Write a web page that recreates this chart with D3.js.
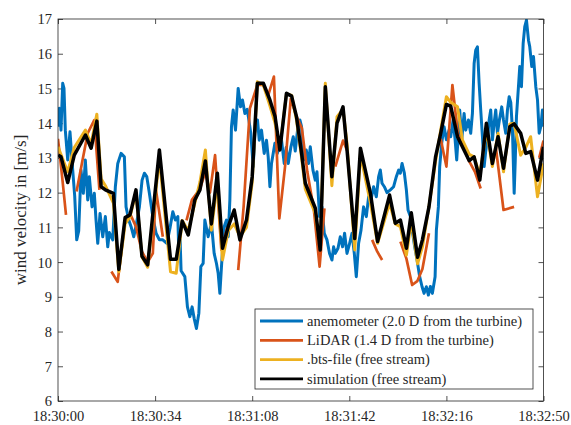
<!DOCTYPE html>
<html>
<head>
<meta charset="utf-8">
<script src="https://cdn.jsdelivr.net/npm/d3@7"></script>
<style>
  html, body { margin: 0; padding: 0; background: #fff; }
  svg { display: block; }
</style>
</head>
<body>
<svg id="chart" width="571" height="425"></svg>
<script>
// ---------- data (time in seconds after 18:30:00, speed in m/s) ----------
const xTickValues = [0, 34, 68, 102, 136, 170];
const xTickLabels = ["18:30:00", "18:30:34", "18:31:08", "18:31:42", "18:32:16", "18:32:50"];
const yTickValues = [6, 7, 8, 9, 10, 11, 12, 13, 14, 15, 16, 17];

const seriesNames = [
  "anemometer (2.0 D from the turbine)",
  "LiDAR (1.4 D from the turbine)",
  ".bts-file (free stream)",
  "simulation (free stream)"
];
const seriesColors = ["#0072BD", "#D95319", "#EDB120", "#000000"];

const anemoTime = [0,0.46,1.05,1.65,2.1,2.56,3.4,4.2,5.15,5.85,6.55,7.25,8.06,8.87,9.57,10.41,10.97,11.92,12.72,13.32,13.92,14.72,15.67,16.58,17.42,17.98,19.17,20.08,20.93,22.08,23.24,23.83,24.78,25.59,26.53,27.45,28.5,29.44,30.25,31.09,32.0,33.19,34.35,35.51,36.7,38.1,39.26,40.2,41.11,41.96,42.3,42.76,43.1,44.41,45.32,46.16,46.97,47.67,48.47,49.32,50.02,50.82,51.42,52.58,53.73,54.68,55.49,56.08,56.68,57.24,58.18,58.99,59.59,60.18,60.74,61.34,62.15,63.09,63.9,64.6,65.44,66.25,66.84,67.5,68.35,68.95,69.86,70.46,71.26,72.2,73.0,73.6,74.2,74.76,75.95,76.76,77.46,78.27,79.22,79.9,80.62,81.56,82.37,83.07,83.88,84.72,85.28,85.98,86.93,87.73,88.33,89.27,90.08,90.68,91.58,92.43,93.24,94.18,95.09,95.93,96.5,97.09,98.04,98.84,99.65,100.35,101.19,102,102.94,103.75,104.45,105.26,106.1,107.0,107.96,108.76,109.6,110.5,111.46,112.27,112.86,113.46,114.27,115.2,116.37,117.52,118.47,119.28,119.87,120.47,121.28,121.98,122.57,123.38,124.19,124.89,125.73,126.64,127.48,128.18,128.99,129.69,130.39,131.09,132.04,132.49,133.19,133.65,134.35,135.19,136.0,136.94,137.5,138.35,139.05,139.61,140.2,140.66,141.36,142.2,142.76,143.71,144.51,145.11,145.71,146.27,146.86,147.46,148.02,148.62,149.22,149.78,150.37,150.97,151.52,152.12,152.72,153.28,153.87,154.57,155.38,155.98,156.78,157.38,157.98,158.54,159.13,159.73,160.1,160.53,161.23,161.69,162.28,162.88,163.44,164.04,164.74,165.19,165.89,166.49,167.3,167.9,168.49,169.05,169.64,170];
const anemoSpeed = [13.9,14.43,13.8,15.15,15.0,13.8,12.94,13.75,12.65,11.9,10.64,10.9,12.65,11.98,12.94,11.79,12.46,11.59,11.98,11.21,10.54,11.4,10.73,11.31,10.44,10.85,10.64,12.17,12.84,13.13,13.03,11.59,11.21,11.02,10.73,11.1,11.59,12.36,12.56,12.46,11.98,11.31,10.83,10.64,10.64,10.54,11.0,11.45,11.21,11.31,10.25,10.64,9.75,9.58,8.71,8.43,8.71,8.38,8.09,8.53,9.87,9.96,11.21,10.73,11.12,10.25,9.96,9.68,9.1,9.87,11.02,11.21,10.73,11.79,13.9,14.38,13.8,15.0,14.47,14.67,14.28,14.4,14.09,13.71,12.75,13.71,14.09,13.51,13.8,13.13,13.51,13.03,12.17,12.84,13.42,13.13,13.3,13.51,12.84,13.3,12.84,13.32,13.61,13.2,13.8,14.09,13.9,12.94,13.23,12.84,13.32,12.65,12.36,12.6,11.31,11.59,10.83,10.64,10.25,10.06,10.44,10.25,10.4,10.73,10.44,10.83,10.25,10.5,10.83,10.25,9.58,10.54,10.92,11.59,11.31,11.88,11.8,12.17,11.88,12.46,12.65,12.27,12.17,12.0,12.08,12.17,12.46,12.65,12.56,12.84,12.56,12.08,11.5,11.31,10.83,10.44,10.06,9.58,9.29,9.1,9.29,9.05,9.3,9.1,9.58,10.92,11.59,12.75,13.42,13.9,13.52,13.8,13.61,14.09,13.52,12.94,13.71,14.38,13.52,14.28,13.8,14.09,13.71,14.28,15.72,16.1,16.2,15.15,14.38,13.61,12.75,13.2,13.52,14.09,14.38,13.52,14.0,14.38,13.71,14.1,14.47,14.1,13.71,14.38,14.76,14.6,13.8,11.98,12.9,14.19,15.05,15.63,15.05,16.3,16.78,16.97,16.39,16.2,15.63,15.92,15.05,14.67,13.71,13.9,14.38,13.9];

// LiDAR: null marks a gap in the measurement
const lidarTime  = [0,1.4,2.8,4,6.5,8.5,10.4,12.7,14.5,16,18.7,20.9,23.3,25.2,27.3,29.4,31.4,33.2,34.3,36.7,38,45,46.9,49.7,51.6,53.2,55,57.2,59.3,61,63.1,65,67.2,69.8,71.9,73.6,75.6,77.5,79.5,81.5,83.5,85.4,87.3,89.6,91.6,93.3,95,97.1,99.8,101.3,102.5,110,111.8,113.5,116,119.9,122,124,125.8,127.6,129.9,131,134,136,138.1,140,142,144,146,148,149.5,153.3,156,159.7,161,168.5,170];
const lidarSpeed = [13.55,12.5,11.36,null,12.03,12.9,13.71,14.09,12.08,null,9.73,9.43,11.1,11.4,11.02,10.3,10.0,10.25,12.08,10.73,null,11.2,11.79,12.1,12.6,12.0,13.08,10.35,11.0,null,9.77,11.6,14.43,15.1,15.1,14.8,15.34,11.26,12.75,14.7,14.2,13.85,12.6,11.5,9.87,11.55,null,12.75,13.5,13.2,null,10.64,10.3,10.06,null,10.59,10.1,9.34,9.45,9.8,10.83,null,13.55,12.75,15.1,13.7,13.3,12.9,12.6,12.12,null,13.32,11.5,11.59,null,13.0,13.5];

const simTime  = [0,1.05,3.4,5.7,9.6,11.6,13.6,15.1,16.6,19.4,21.3,23.5,25.2,27.3,29.4,31.4,35.5,39.4,41.4,43.5,45.6,47.9,49.7,51.6,53.7,55.8,57.6,59.6,61.7,63.7,66.0,68.0,69.8,71.9,74.2,76.0,77.7,80.0,81.8,83.5,85.3,86.6,90.1,91.8,93.6,95.9,97.7,99.8,101.2,103.9,105.9,109.4,111.9,116.1,118.1,119.9,122.0,123.7,125.9,127.6,129.9,132.2,134.0,136.0,137.5,139.9,141.6,144.0,145.7,147.7,150.0,152.1,154.1,156.0,158.2,159.7,162.0,163.8,165.5,167.9,170];
const simSpeed = [13.08,13.03,12.29,13.08,13.66,13.28,14.06,12.17,12.08,11.98,9.79,11.28,11.36,12.08,10.17,9.92,13.23,10.08,10.08,11.18,10.78,11.79,12.08,12.91,11.10,12.56,10.40,11.02,11.50,10.64,11.21,12.46,15.15,15.15,14.67,14.19,13.23,14.86,14.78,14.19,13.13,12.27,11.55,10.35,15.05,12.46,14.0,14.47,13.23,10.68,13.28,11.98,10.59,11.93,11.12,11.21,10.40,11.42,10.14,10.64,11.59,13.03,13.71,14.54,14.49,13.61,13.32,12.92,13.03,12.36,14.0,12.84,13.61,12.70,13.90,13.98,13.71,13.13,13.18,12.36,13.32];

const btsTime  = simTime;
const btsSpeed = [13.32,13.1,12.6,13.3,13.8,13.4,14.26,12.4,12.2,11.7,9.72,11.1,11.3,12.0,10.15,9.85,13.0,9.72,9.68,11.2,10.9,11.7,12.3,13.23,10.92,12.3,10.06,10.9,11.1,10.73,11.0,12.3,15.19,15.1,14.5,14.0,13.3,14.85,14.8,14.1,13.0,12.1,11.4,10.4,15.15,12.2,14.19,14.4,13.4,10.35,13.1,11.7,10.54,11.7,11.1,11.02,10.2,11.2,9.95,10.44,11.6,12.9,13.8,14.76,14.6,14.47,13.52,13.1,13.03,12.5,13.8,12.75,13.71,12.6,13.98,14.0,13.08,13.3,13.61,11.88,12.84];

// ---------- layout ----------
const FONT = '"Liberation Serif", "Times New Roman", Tinos, "DejaVu Serif", "Noto Serif", serif';
const plotLeft = 58, plotRight = 543.5, plotTop = 19, plotBottom = 401;
const axisColor = "#262626";

const svg = d3.select("#chart");
const x = d3.scaleLinear().domain([0, 170]).range([plotLeft, plotRight]);
const y = d3.scaleLinear().domain([6, 17]).range([plotBottom, plotTop]);

svg.append("defs").append("clipPath").attr("id", "plotclip")
  .append("rect").attr("x", plotLeft).attr("y", plotTop)
  .attr("width", plotRight - plotLeft).attr("height", plotBottom - plotTop);

// axes
const tickLen = 5;
const fmtX = (d) => xTickLabels[xTickValues.indexOf(d)];

const gB = svg.append("g").attr("transform", `translate(0,${plotBottom})`)
  .call(d3.axisBottom(x).tickValues(xTickValues).tickFormat(fmtX)
    .tickSizeInner(-tickLen).tickSizeOuter(0).tickPadding(10));
const gT = svg.append("g").attr("transform", `translate(0,${plotTop})`)
  .call(d3.axisTop(x).tickValues(xTickValues).tickFormat("")
    .tickSizeInner(-tickLen).tickSizeOuter(0));
const gL = svg.append("g").attr("transform", `translate(${plotLeft},0)`)
  .call(d3.axisLeft(y).tickValues(yTickValues).tickFormat(d3.format("d"))
    .tickSizeInner(-tickLen).tickSizeOuter(0).tickPadding(6));
const gR = svg.append("g").attr("transform", `translate(${plotRight},0)`)
  .call(d3.axisRight(y).tickValues(yTickValues).tickFormat("")
    .tickSizeInner(-tickLen).tickSizeOuter(0));

[gB, gT, gL, gR].forEach(g => {
  g.attr("font-family", FONT).attr("font-size", 14.5);
  g.select(".domain").remove();
  g.selectAll(".tick line").attr("stroke", axisColor).attr("stroke-width", 0.8);
  g.selectAll(".tick text").attr("fill", axisColor)
    .attr("font-family", FONT).attr("font-size", 14.5);
});
gL.selectAll(".tick text").attr("dy", "0.34em");

// lines
const plot = svg.append("g").attr("clip-path", "url(#plotclip)");
function zip(ts, vs) { return ts.map((t, i) => ({ t: t, v: vs[i] })); }
const line = d3.line().defined(d => d.v !== null).x(d => x(d.t)).y(d => y(d.v));

const seriesData = [
  zip(anemoTime, anemoSpeed),
  zip(lidarTime, lidarSpeed),
  zip(btsTime, btsSpeed),
  zip(simTime, simSpeed)
];
const widths = [3.0, 2.7, 3.0, 3.5];
seriesData.forEach((data, i) => {
  plot.append("path").datum(data)
    .attr("d", line)
    .attr("fill", "none")
    .attr("stroke", seriesColors[i])
    .attr("stroke-width", widths[i])
    .attr("stroke-linejoin", "round")
    .attr("stroke-linecap", "butt");
});

// box
svg.append("rect").attr("x", plotLeft).attr("y", plotTop)
  .attr("width", plotRight - plotLeft).attr("height", plotBottom - plotTop)
  .attr("fill", "none").attr("stroke", axisColor).attr("stroke-width", 0.8);

// y label
svg.append("text")
  .attr("transform", `translate(26,${(plotTop + plotBottom) / 2}) rotate(-90)`)
  .attr("text-anchor", "middle")
  .attr("font-family", FONT).attr("font-size", 17).attr("fill", axisColor)
  .text("wind velocity in [m/s]");

// legend
const lg = svg.append("g");
const lx = 255, ly = 309, lw = 278, lh = 80;
lg.append("rect").attr("x", lx).attr("y", ly).attr("width", lw).attr("height", lh)
  .attr("fill", "#fff").attr("stroke", axisColor).attr("stroke-width", 0.8);
seriesNames.forEach((name, i) => {
  const yy = ly + 12 + i * 19.3;
  lg.append("line").attr("x1", lx + 5).attr("x2", lx + 48)
    .attr("y1", yy).attr("y2", yy)
    .attr("stroke", seriesColors[i]).attr("stroke-width", 2.8);
  lg.append("text").attr("x", lx + 52).attr("y", yy).attr("dy", "0.33em")
    .attr("font-family", FONT).attr("font-size", 14.5).attr("fill", axisColor)
    .text(name);
});
</script>
</body>
</html>
